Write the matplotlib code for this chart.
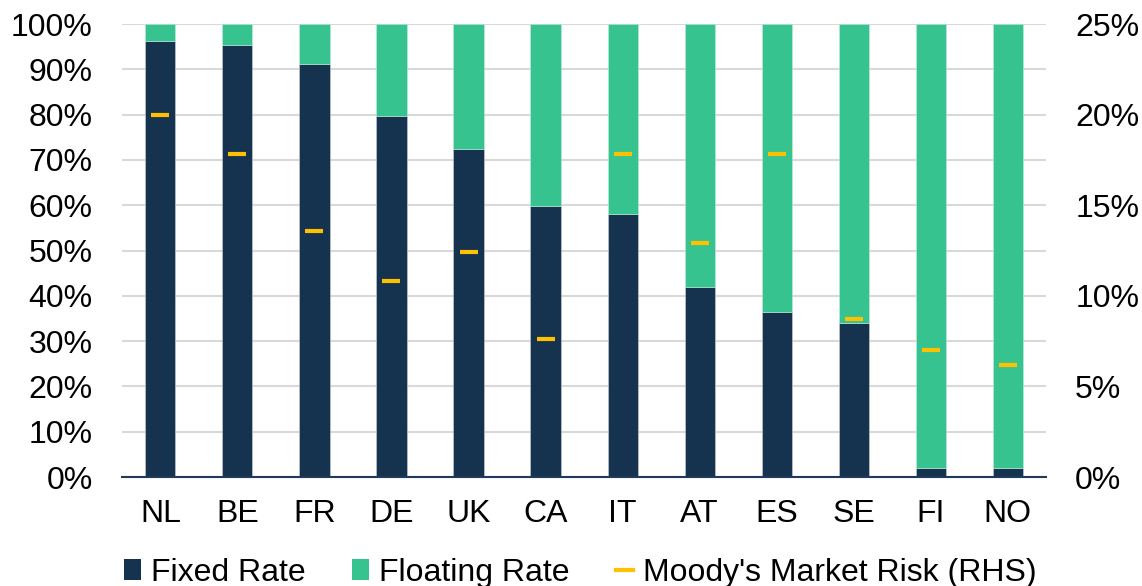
import matplotlib.pyplot as plt
import numpy as np
from matplotlib.lines import Line2D
from matplotlib.patches import Patch
from matplotlib.ticker import PercentFormatter

plt.rcParams['font.family'] = ['Liberation Sans', 'DejaVu Sans']

countries = ['NL', 'BE', 'FR', 'DE', 'UK', 'CA', 'IT', 'AT', 'ES', 'SE', 'FI', 'NO']
fixed_rate = [96.2, 95.4, 91.2, 79.7, 72.4, 59.8, 58.1, 41.9, 36.4, 34.0, 2.0, 2.0]
floating_rate = [100 - v for v in fixed_rate]
market_risk = [20.0, 17.8, 13.6, 10.8, 12.4, 7.6, 17.8, 12.9, 17.8, 8.7, 7.0, 6.2]

navy = '#15324F'
green = '#37C390'
gold = '#FFC000'

fig = plt.figure(figsize=(11.42, 5.86), dpi=100)
ax = fig.add_axes([0.1068, 0.186, 0.8092, 0.773])
x = np.arange(len(countries))

ax.bar(x, fixed_rate, width=0.39, color=navy, edgecolor='#C9D1DA', linewidth=0.4, zorder=2)
ax.bar(x, floating_rate, width=0.39, bottom=fixed_rate, color=green,
       edgecolor='#BFEBDA', linewidth=0.4, zorder=2)

ax.set_xlim(-0.5, len(countries) - 0.5)
ax.set_ylim(0, 100)
ax.set_yticks(np.arange(0, 101, 10))
ax.yaxis.set_major_formatter(PercentFormatter(decimals=0))
ax.set_xticks(x)
ax.set_xticklabels(countries)
ax.grid(axis='y', color='#D9D9D9', linewidth=1.5, zorder=0)
ax.set_axisbelow(True)
for side in ['top', 'left', 'right']:
    ax.spines[side].set_visible(False)
ax.spines['bottom'].set_color('#1F3A5A')
ax.spines['bottom'].set_linewidth(1.5)
ax.spines['bottom'].set_zorder(3)
ax.tick_params(axis='y', length=0, pad=21, labelsize=23)
ax.tick_params(axis='x', length=0, pad=16, labelsize=23)

ax2 = ax.twinx()
ax2.plot(x, market_risk, linestyle='none', marker='_', markersize=13,
         markeredgewidth=3, color=gold, zorder=4)
ax2.set_ylim(0, 25)
ax2.set_yticks(np.arange(0, 26, 5))
ax2.yaxis.set_major_formatter(PercentFormatter(decimals=0))
ax2.tick_params(axis='y', length=0, pad=21, labelsize=23)
for side in ['top', 'left', 'right', 'bottom']:
    ax2.spines[side].set_visible(False)

handles = [
    Patch(facecolor=navy, label='Fixed Rate'),
    Patch(facecolor=green, label='Floating Rate'),
    Line2D([], [], color=gold, linewidth=3, label="Moody's Market Risk (RHS)"),
]
fig.legend(handles=handles, loc='lower center', bbox_to_anchor=(0.508, -0.052), ncol=3,
           frameon=False, fontsize=23, handlelength=0.55, handleheight=0.6,
           handletextpad=0.3, columnspacing=1.45)

fig.savefig('out.png', dpi=100)
